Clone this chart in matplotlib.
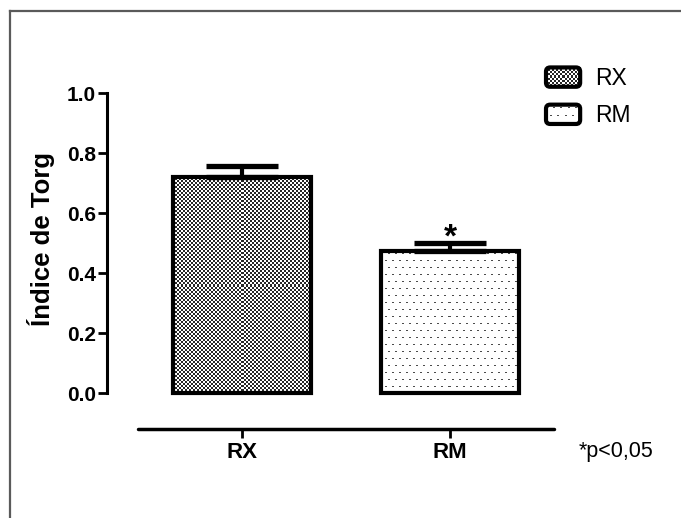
import numpy as np
import matplotlib
matplotlib.use('Agg')
import matplotlib.pyplot as plt
from matplotlib.legend_handler import HandlerBase
from matplotlib.image import BboxImage
from matplotlib.transforms import Bbox, TransformedBbox
from matplotlib.patches import FancyBboxPatch, Rectangle
from matplotlib.lines import Line2D
from matplotlib.colors import Normalize

# ---- data ----
categories = ['RX', 'RM']
means = [0.72, 0.475]
sem = [0.038, 0.025]
yticks = [0.0, 0.2, 0.4, 0.6, 0.8, 1.0]
legend_labels = ['RX', 'RM']
ylabel = 'Índice de Torg'
sig_mark = '*'
note = '*p<0,05'

plt.rcParams['font.family'] = ['Liberation Sans', 'DejaVu Sans']


def checker(h, w, s=2, dark=0.15):
    yy, xx = np.mgrid[0:h, 0:w]
    return np.where(((yy // s + xx // s) % 2) == 0, dark, 1.0)


def dots(h, w, sx=7, sy=7, tone=0.3):
    yy, xx = np.mgrid[0:h, 0:w]
    row = yy // sy
    shift = (row % 2) * (sx // 2)
    m = ((yy % sy) == 3) & (((xx + shift) % sx) < 2)
    return np.where(m, tone, 1.0)


textures = [checker, dots]

fig = plt.figure(figsize=(6.81, 5.18), dpi=100)
ax = fig.add_axes([0.15712, 0.17181, 0.72394, 0.71236])
ax.set_xlim(-0.649, 1.721)
ax.set_ylim(-0.12, 1.11)

x = np.arange(len(categories))
width = 0.66
bars = ax.bar(x, means, width=width, facecolor='none', edgecolor='black',
              linewidth=3, zorder=3)
for bar, tex in zip(bars, textures):
    x0, y0 = bar.get_x(), bar.get_y()
    x1, y1 = x0 + bar.get_width(), y0 + bar.get_height()
    (px0, py0), (px1, py1) = ax.transData.transform([(x0, y0), (x1, y1)])
    w = max(int(round(px1 - px0)), 1)
    h = max(int(round(py1 - py0)), 1)
    im = ax.imshow(tex(h, w), cmap='gray', vmin=0, vmax=1,
                   extent=(x0, x1, y0, y1), origin='upper',
                   interpolation='nearest', aspect='auto', zorder=2)
    im.set_clip_path(bar)

ax.errorbar(x, means, yerr=[np.zeros(len(means)), sem], fmt='none',
            ecolor='black', elinewidth=3, capsize=26, capthick=3.8, zorder=4)

ax.annotate(sig_mark, xy=(x[1], means[1] + sem[1]), xytext=(0, -2.5),
            textcoords='offset points', ha='center', va='baseline',
            fontsize=24, fontweight='bold')

ax.set_xlim(-0.649, 1.721)
ax.set_ylim(-0.12, 1.11)

for s in ['top', 'right']:
    ax.spines[s].set_visible(False)
ax.spines['left'].set_bounds(0, 1)
ax.spines['left'].set_linewidth(2.2)
ax.spines['bottom'].set_bounds(-0.5, 1.5)
ax.spines['bottom'].set_linewidth(2.5)
ax.spines['bottom'].set_capstyle('round')

ax.set_yticks(yticks)
ax.set_yticklabels([f'{t:.1f}' for t in yticks], fontweight='bold', fontsize=15)
ax.set_xticks(x)
ax.set_xticklabels(categories, fontweight='bold', fontsize=16)
ax.tick_params(axis='y', length=6.5, width=2, pad=1.5)
ax.tick_params(axis='x', length=6.5, width=2, pad=3)

ax.set_ylabel(ylabel, fontsize=18.5, fontweight='bold')
ax.yaxis.set_label_coords(-0.1055, 0.515)

fig.text(579 / 681, 1 - 451 / 518, note, fontsize=15.5, ha='left', va='center')


class TextureHandler(HandlerBase):
    def __init__(self, tex):
        super().__init__()
        self.tex = tex

    def create_artists(self, legend, orig_handle, xdescent, ydescent, width,
                       height, fontsize, trans):
        bb = Bbox.from_bounds(-xdescent, -ydescent, width, height)
        img = BboxImage(TransformedBbox(bb, trans), cmap='gray',
                        norm=Normalize(0, 1), interpolation='nearest')
        wpx = max(int(round(width * fig.dpi / 72)), 1)
        hpx = max(int(round(height * fig.dpi / 72)), 1)
        img.set_data(self.tex(hpx, wpx))
        frame = FancyBboxPatch((-xdescent, -ydescent), width, height,
                               boxstyle='round,pad=0,rounding_size=3',
                               facecolor='none', edgecolor='black',
                               linewidth=3, transform=trans)
        return [img, frame]


handles = [Rectangle((0, 0), 1, 1) for _ in legend_labels]
hmap = {h: TextureHandler(t) for h, t in zip(handles, textures)}
ax.legend(handles, legend_labels, handler_map=hmap, loc='upper left',
          bbox_to_anchor=(546 / 681, 1 - 67 / 518), bbox_transform=fig.transFigure,
          frameon=False, fontsize=16.5, borderpad=0, borderaxespad=0,
          handlelength=1.49, handleheight=0.92, handletextpad=0.65,
          labelspacing=0.62)

# figure frame (left and top edges)
fig.add_artist(Line2D([10 / 681, 10 / 681], [0, 1 - 11 / 518],
                      transform=fig.transFigure, color='#5a5a5a', lw=1.6))
fig.add_artist(Line2D([10 / 681, 1], [1 - 11 / 518, 1 - 11 / 518],
                      transform=fig.transFigure, color='#5a5a5a', lw=1.6))

fig.savefig('out.png', dpi=100)
